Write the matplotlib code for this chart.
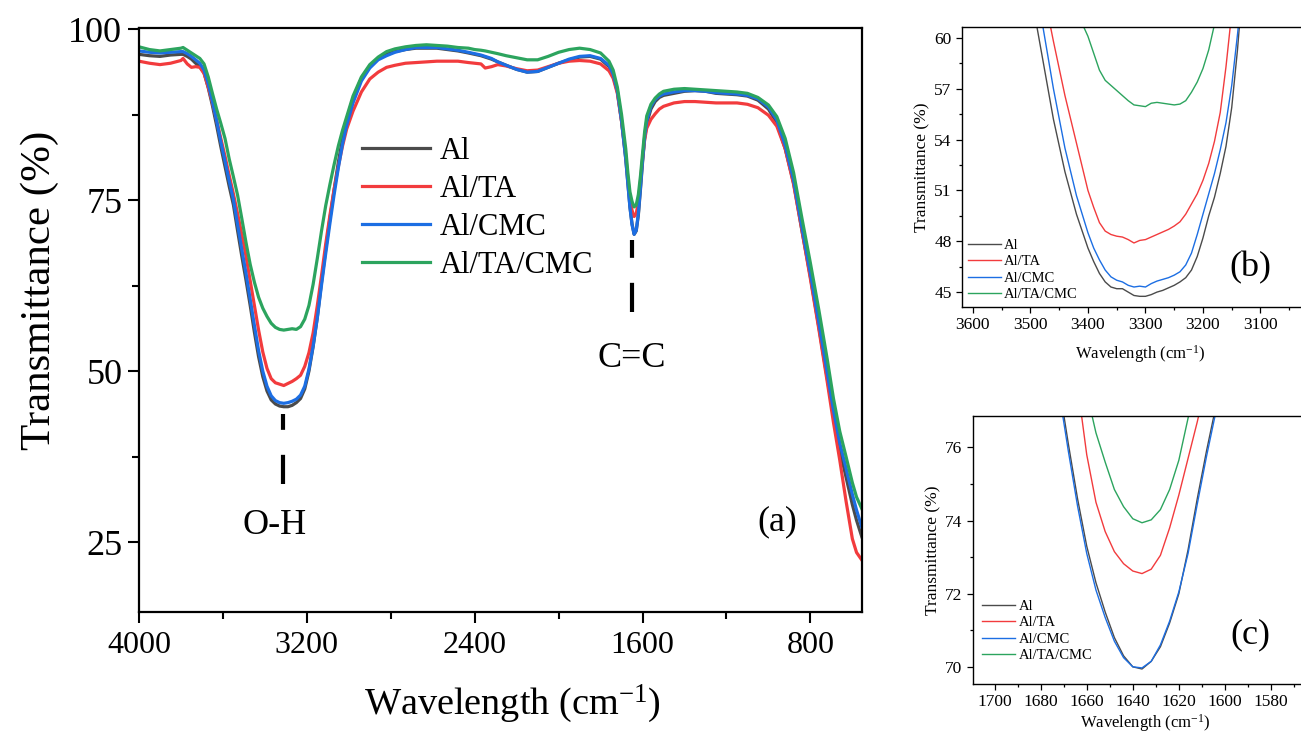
import numpy as np
import matplotlib.pyplot as plt
from matplotlib.ticker import MultipleLocator

plt.rcParams['font.family'] = 'Liberation Serif'
plt.rcParams['mathtext.fontset'] = 'custom'
plt.rcParams['mathtext.rm'] = 'Liberation Serif'
plt.rcParams['mathtext.it'] = 'Liberation Serif:italic'

# series names and colours
labels = ['Al', 'Al/TA', 'Al/CMC', 'Al/TA/CMC']
colors = ['#4b4b4b', '#f23b3d', '#1c6ee3', '#2ca45e']

# ---- full spectrum (a) ----
wn_full = [4000, 3950, 3900, 3850, 3800, 3790, 3770, 3750, 3730, 3710, 3690, 3670, 3650, 3630,
           3610, 3590, 3570, 3550, 3530, 3510, 3490, 3470, 3450, 3430, 3410, 3390, 3370, 3350,
           3330, 3310, 3290, 3270, 3250, 3230, 3210, 3190, 3170, 3150, 3130, 3110, 3090, 3070,
           3050, 3030, 3010, 2980, 2940, 2900, 2860, 2820, 2780, 2730, 2680, 2630, 2580, 2530,
           2480, 2430, 2400, 2370, 2350, 2320, 2290, 2250, 2200, 2150, 2100, 2050, 2000, 1950,
           1900, 1850, 1800, 1760, 1740, 1720, 1700, 1680, 1670, 1660, 1650, 1640, 1630, 1620,
           1610, 1600, 1590, 1580, 1560, 1540, 1520, 1500, 1450, 1400, 1350, 1300, 1250, 1200,
           1150, 1100, 1050, 1000, 960, 920, 880, 840, 800, 760, 720, 690, 660, 630, 600, 580, 555]

al_full = [96.3, 96.1, 96.0, 96.2, 96.3, 96.3, 96.0, 95.6, 95.0, 94.5, 93.6, 91.4, 88.8, 85.9,
           82.8, 79.9, 77.0, 74.3, 70.5, 66.8, 63.3, 59.6, 55.7, 52.1, 49.2, 47.1, 45.8, 45.2,
           44.9, 44.8, 44.8, 45.0, 45.4, 46.0, 47.4, 50.0, 53.6, 57.9, 63.0, 67.8, 72.3, 76.5,
           80.5, 84.0, 86.8, 89.8, 92.8, 94.6, 95.7, 96.3, 96.7, 97.0, 97.2, 97.2, 97.2, 97.0,
           96.8, 96.5, 96.3, 96.1, 95.9, 95.6, 95.2, 94.7, 94.1, 93.7, 93.8, 94.4, 95.0, 95.5,
           95.9, 96.0, 95.6, 94.5, 93.2, 90.8, 86.5, 81.0, 77.5, 74.0, 71.5, 70.0, 70.5, 72.8,
           76.5, 80.5, 84.0, 86.2, 88.3, 89.4, 90.0, 90.3, 90.6, 90.9, 91.0, 90.9, 90.6, 90.5,
           90.4, 90.2, 89.6, 88.3, 86.3, 82.5, 77.5, 70.5, 63.8, 56.5, 49.0, 43.5, 38.5, 34.5, 30.5, 28.2, 25.8]

alta_full = [95.3, 95.0, 94.8, 95.0, 95.4, 95.7, 94.9, 94.4, 94.5, 94.4, 93.5, 91.5, 89.2, 86.7,
             84.0, 81.4, 78.6, 75.9, 73.0, 70.0, 66.8, 63.2, 59.6, 56.0, 52.8, 50.4, 48.9, 48.3,
             48.1, 47.9, 48.2, 48.5, 48.9, 49.4, 50.7, 52.7, 55.6, 59.6, 64.0, 68.6, 72.8, 76.6,
             79.9, 82.9, 85.4, 88.0, 90.8, 92.7, 93.7, 94.4, 94.7, 95.0, 95.1, 95.2, 95.3, 95.3,
             95.3, 95.1, 95.0, 94.9, 94.3, 94.5, 94.8, 94.6, 94.2, 93.9, 94.0, 94.5, 95.0, 95.3,
             95.4, 95.3, 94.9, 93.9, 92.8, 90.6, 86.5, 81.5, 78.2, 75.3, 73.5, 72.6, 73.0, 74.8,
             77.8, 81.0, 83.8, 85.5, 86.8, 87.6, 88.3, 88.7, 89.2, 89.4, 89.4, 89.3, 89.2, 89.2,
             89.2, 89.0, 88.5, 87.4, 85.8, 82.5, 77.3, 70.5, 63.5, 56.2, 48.5, 42.5, 37.0, 31.0, 25.5, 23.5, 22.4]

alcmc_full = [96.8, 96.6, 96.5, 96.6, 96.7, 96.7, 96.4, 96.0, 95.5, 95.0, 94.0, 92.0, 89.4, 86.6,
              83.5, 80.7, 77.8, 75.1, 71.4, 67.8, 64.3, 60.5, 56.7, 53.0, 50.0, 47.8, 46.4, 45.7,
              45.4, 45.3, 45.4, 45.6, 45.9, 46.5, 47.8, 50.3, 53.7, 57.8, 62.6, 67.2, 71.6, 75.8,
              79.7, 83.2, 86.0, 89.2, 92.4, 94.3, 95.5, 96.1, 96.6, 97.0, 97.3, 97.3, 97.3, 97.1,
              96.9, 96.6, 96.4, 96.2, 96.0, 95.7, 95.2, 94.7, 94.1, 93.7, 93.8, 94.4, 95.0, 95.6,
              96.0, 96.1, 95.7, 94.7, 93.4, 91.0, 86.6, 81.0, 77.4, 73.9, 71.4, 70.0, 70.6, 73.0,
              76.8, 80.8, 84.3, 86.6, 88.7, 89.7, 90.2, 90.5, 90.8, 91.0, 91.0, 90.9, 90.7, 90.6,
              90.5, 90.3, 89.8, 88.6, 86.7, 83.0, 77.9, 71.0, 64.3, 57.2, 49.8, 44.3, 39.5, 35.8, 32.0, 29.7, 27.2]

altacmc_full = [97.4, 97.0, 96.8, 97.0, 97.2, 97.3, 96.9, 96.5, 96.1, 95.7, 94.9, 93.0, 90.6, 88.3,
                86.2, 84.0, 81.0, 78.4, 75.7, 72.3, 68.8, 65.6, 63.0, 60.8, 59.2, 58.0, 57.0, 56.4,
                56.1, 56.0, 56.1, 56.2, 56.1, 56.5, 57.6, 59.6, 62.7, 66.5, 70.5, 74.2, 77.3, 80.2,
                82.9, 85.2, 87.2, 90.2, 93.0, 94.8, 95.9, 96.7, 97.1, 97.4, 97.6, 97.7, 97.6, 97.5,
                97.3, 97.2, 97.0, 96.9, 96.8, 96.6, 96.4, 96.1, 95.8, 95.5, 95.5, 96.0, 96.6, 97.0,
                97.2, 97.0, 96.5, 95.3, 94.0, 91.5, 87.5, 82.5, 79.0, 76.2, 74.8, 74.0, 74.3, 75.8,
                78.5, 81.8, 85.0, 87.3, 89.0, 89.9, 90.5, 90.9, 91.2, 91.3, 91.2, 91.1, 91.0, 90.9,
                90.8, 90.6, 90.0, 88.9, 87.2, 84.0, 79.0, 72.3, 65.8, 59.0, 51.8, 46.0, 41.2, 37.5, 33.7, 31.6, 29.9]

# ---- O-H region zoom (b) ----
wn_oh = [3500, 3480, 3460, 3440, 3420, 3400, 3390, 3380, 3370, 3360, 3350, 3340, 3330, 3320,
         3310, 3300, 3290, 3280, 3270, 3260, 3250, 3240, 3230, 3220, 3210, 3200, 3190, 3180,
         3170, 3160, 3150, 3140, 3130]
al_oh = [62.8, 59.0, 55.2, 52.1, 49.6, 47.6, 46.8, 46.1, 45.6, 45.3, 45.2, 45.2, 45.0, 44.8,
         44.75, 44.75, 44.85, 45.0, 45.1, 45.25, 45.4, 45.6, 45.85, 46.3, 47.1, 48.2, 49.5, 50.6,
         52.0, 53.6, 55.9, 59.3, 63.5]
alta_oh = [67.0, 63.2, 59.8, 56.6, 53.8, 51.0, 50.0, 49.1, 48.6, 48.4, 48.3, 48.25, 48.1, 47.9,
           48.05, 48.1, 48.25, 48.4, 48.55, 48.7, 48.9, 49.15, 49.6, 50.2, 50.8, 51.6, 52.6, 53.9,
           55.6, 58.3, 61.5, 64.5, 67.5]
alcmc_oh = [64.5, 61.0, 57.0, 53.5, 50.7, 48.5, 47.6, 46.9, 46.3, 45.9, 45.7, 45.6, 45.4, 45.3,
            45.35, 45.3, 45.5, 45.65, 45.75, 45.85, 46.0, 46.2, 46.6, 47.3, 48.4, 49.6, 50.8, 52.0,
            53.4, 55.0, 57.2, 60.2, 63.5]
altacmc_oh = [72.0, 69.0, 66.0, 63.5, 61.6, 60.1, 59.1, 58.1, 57.5, 57.2, 56.9, 56.6, 56.3, 56.05,
              56.0, 55.95, 56.15, 56.2, 56.15, 56.1, 56.05, 56.1, 56.3, 56.8, 57.4, 58.2, 59.3, 60.8,
              62.5, 64.5, 66.5, 68.5, 70.5]

# ---- C=C region zoom (c) ----
wn_cc = [1676, 1672, 1668, 1664, 1660, 1656, 1652, 1648, 1644, 1640,
         1636, 1632, 1628, 1624, 1620, 1616, 1612, 1608, 1604, 1600]
al_cc = [79.4, 77.7, 76.1, 74.6, 73.3, 72.3, 71.5, 70.8, 70.3, 70.0,
         69.94, 70.15, 70.55, 71.2, 72.0, 73.2, 74.6, 75.9, 77.1, 78.4]
alta_cc = [83.0, 81.3, 79.5, 77.7, 75.8, 74.5, 73.7, 73.15, 72.82, 72.62,
           72.55, 72.67, 73.05, 73.8, 74.7, 75.7, 76.7, 77.8, 78.9, 80.0]
alcmc_cc = [79.2, 77.5, 75.9, 74.4, 73.1, 72.1, 71.35, 70.7, 70.25, 70.0,
            69.97, 70.15, 70.6, 71.25, 72.05, 73.1, 74.45, 75.75, 76.95, 78.25]
altacmc_cc = [82.3, 81.0, 79.8, 78.6, 77.5, 76.4, 75.6, 74.85, 74.38, 74.05,
              73.94, 74.02, 74.3, 74.85, 75.65, 76.8, 78.2, 79.6, 81.0, 82.4]

full_sets = [al_full, alta_full, alcmc_full, altacmc_full]
oh_sets = [al_oh, alta_oh, alcmc_oh, altacmc_oh]
cc_sets = [al_cc, alta_cc, alcmc_cc, altacmc_cc]

W, H = 1301, 736
fig = plt.figure(figsize=(W / 100, H / 100), dpi=100)

def box(l, t, r, b):
    return [l / W, 1 - b / H, (r - l) / W, (b - t) / H]

# main panel
ax = fig.add_axes(box(139, 28, 862, 612))
for y, lab, c in zip(full_sets, labels, colors):
    ax.plot(wn_full, y, color=c, lw=2.3, label=lab)
ax.set_xlim(4000, 554)
ax.set_ylim(14.8, 100.15)
ax.xaxis.set_major_locator(MultipleLocator(800))
ax.xaxis.set_minor_locator(MultipleLocator(400))
ax.yaxis.set_major_locator(MultipleLocator(25))
ax.yaxis.set_minor_locator(MultipleLocator(12.5))
ax.tick_params(which='both', direction='out', width=1.5)
ax.tick_params(which='major', length=8)
ax.tick_params(which='minor', length=5)
ax.tick_params(axis='x', labelsize=23, pad=6)
ax.tick_params(axis='y', labelsize=26, pad=4)
for s in ax.spines.values():
    s.set_linewidth(1.6)
ax.set_xlabel('Wavelength (cm$^{-1}$)', fontsize=27.5)
ax.xaxis.set_label_coords(0.516, -0.121)
ax.set_ylabel('Transmittance (%)', fontsize=31)
ax.yaxis.set_label_coords(-0.11, 0.55)
ax.legend(loc='upper left', bbox_to_anchor=(0.292, 0.835), frameon=False, fontsize=22,
          handlelength=2.2, handletextpad=0.33, labelspacing=0.3, borderaxespad=0)

# peak markers and labels
peak_wn = [3314, 1650]
ax.vlines(peak_wn[0], 33.5, 43.8, colors='k', lw=3, linestyles=(0, (7, 6)))
ax.vlines(peak_wn[1], 58.6, 69.2, colors='k', lw=3, linestyles=(0, (7, 6)))
ax.text(3355, 27.5, 'O-H', fontsize=26, ha='center', va='center')
ax.text(1650, 51.8, 'C=C', fontsize=26, ha='center', va='center')
ax.text(0.883, 0.155, '(a)', transform=ax.transAxes, fontsize=26, ha='center', va='center')

def inset(pos, sets, wn, xlim, ylim, xticks, xminor, yticks, yminor, leg_anchor, xpad):
    a = fig.add_axes(pos)
    for y, lab, c in zip(sets, labels, colors):
        a.plot(wn, y, color=c, lw=1.0, label=lab)
    a.set_xlim(*xlim)
    a.set_ylim(*ylim)
    a.set_xticks(xticks)
    a.set_xticks(xminor, minor=True)
    a.set_yticks(yticks)
    a.set_yticks(yminor, minor=True)
    a.tick_params(which='both', direction='out', width=0.9, labelsize=12.5)
    a.tick_params(which='major', length=4)
    a.tick_params(which='minor', length=2.5)
    for s in a.spines.values():
        s.set_linewidth(1.0)
    a.set_xlabel('Wavelength (cm$^{-1}$)', fontsize=12, labelpad=xpad)
    a.set_ylabel('Transmittance (%)', fontsize=12.5, labelpad=3)
    a.legend(loc='lower left', bbox_to_anchor=leg_anchor, frameon=False, fontsize=10.5,
             handlelength=2.25, handletextpad=0.25, labelspacing=0.22, borderaxespad=0)
    return a

ab = inset(box(962, 27, 1318, 307), oh_sets, wn_oh, (3619, 3000), (44.12, 60.65),
           [3600, 3500, 3400, 3300, 3200, 3100], [3550, 3450, 3350, 3250, 3150, 3050],
           [45, 48, 51, 54, 57, 60], [46.5, 49.5, 52.5, 55.5, 58.5], (0.0, 0.0), 7)
fig.text(1250 / W, 1 - 268 / H, '(b)', fontsize=26, ha='center', va='center')

ac = inset(box(973, 416, 1317, 684), cc_sets, wn_cc, (1709.4, 1560), (69.53, 76.86),
           [1700, 1680, 1660, 1640, 1620, 1600, 1580], [1690, 1670, 1650, 1630, 1610, 1590, 1570],
           [70, 72, 74, 76], [71, 73, 75], (0.01, 0.06), 1.5)
fig.text(1250 / W, 1 - 635 / H, '(c)', fontsize=26, ha='center', va='center')

fig.savefig('out.png', dpi=100)
